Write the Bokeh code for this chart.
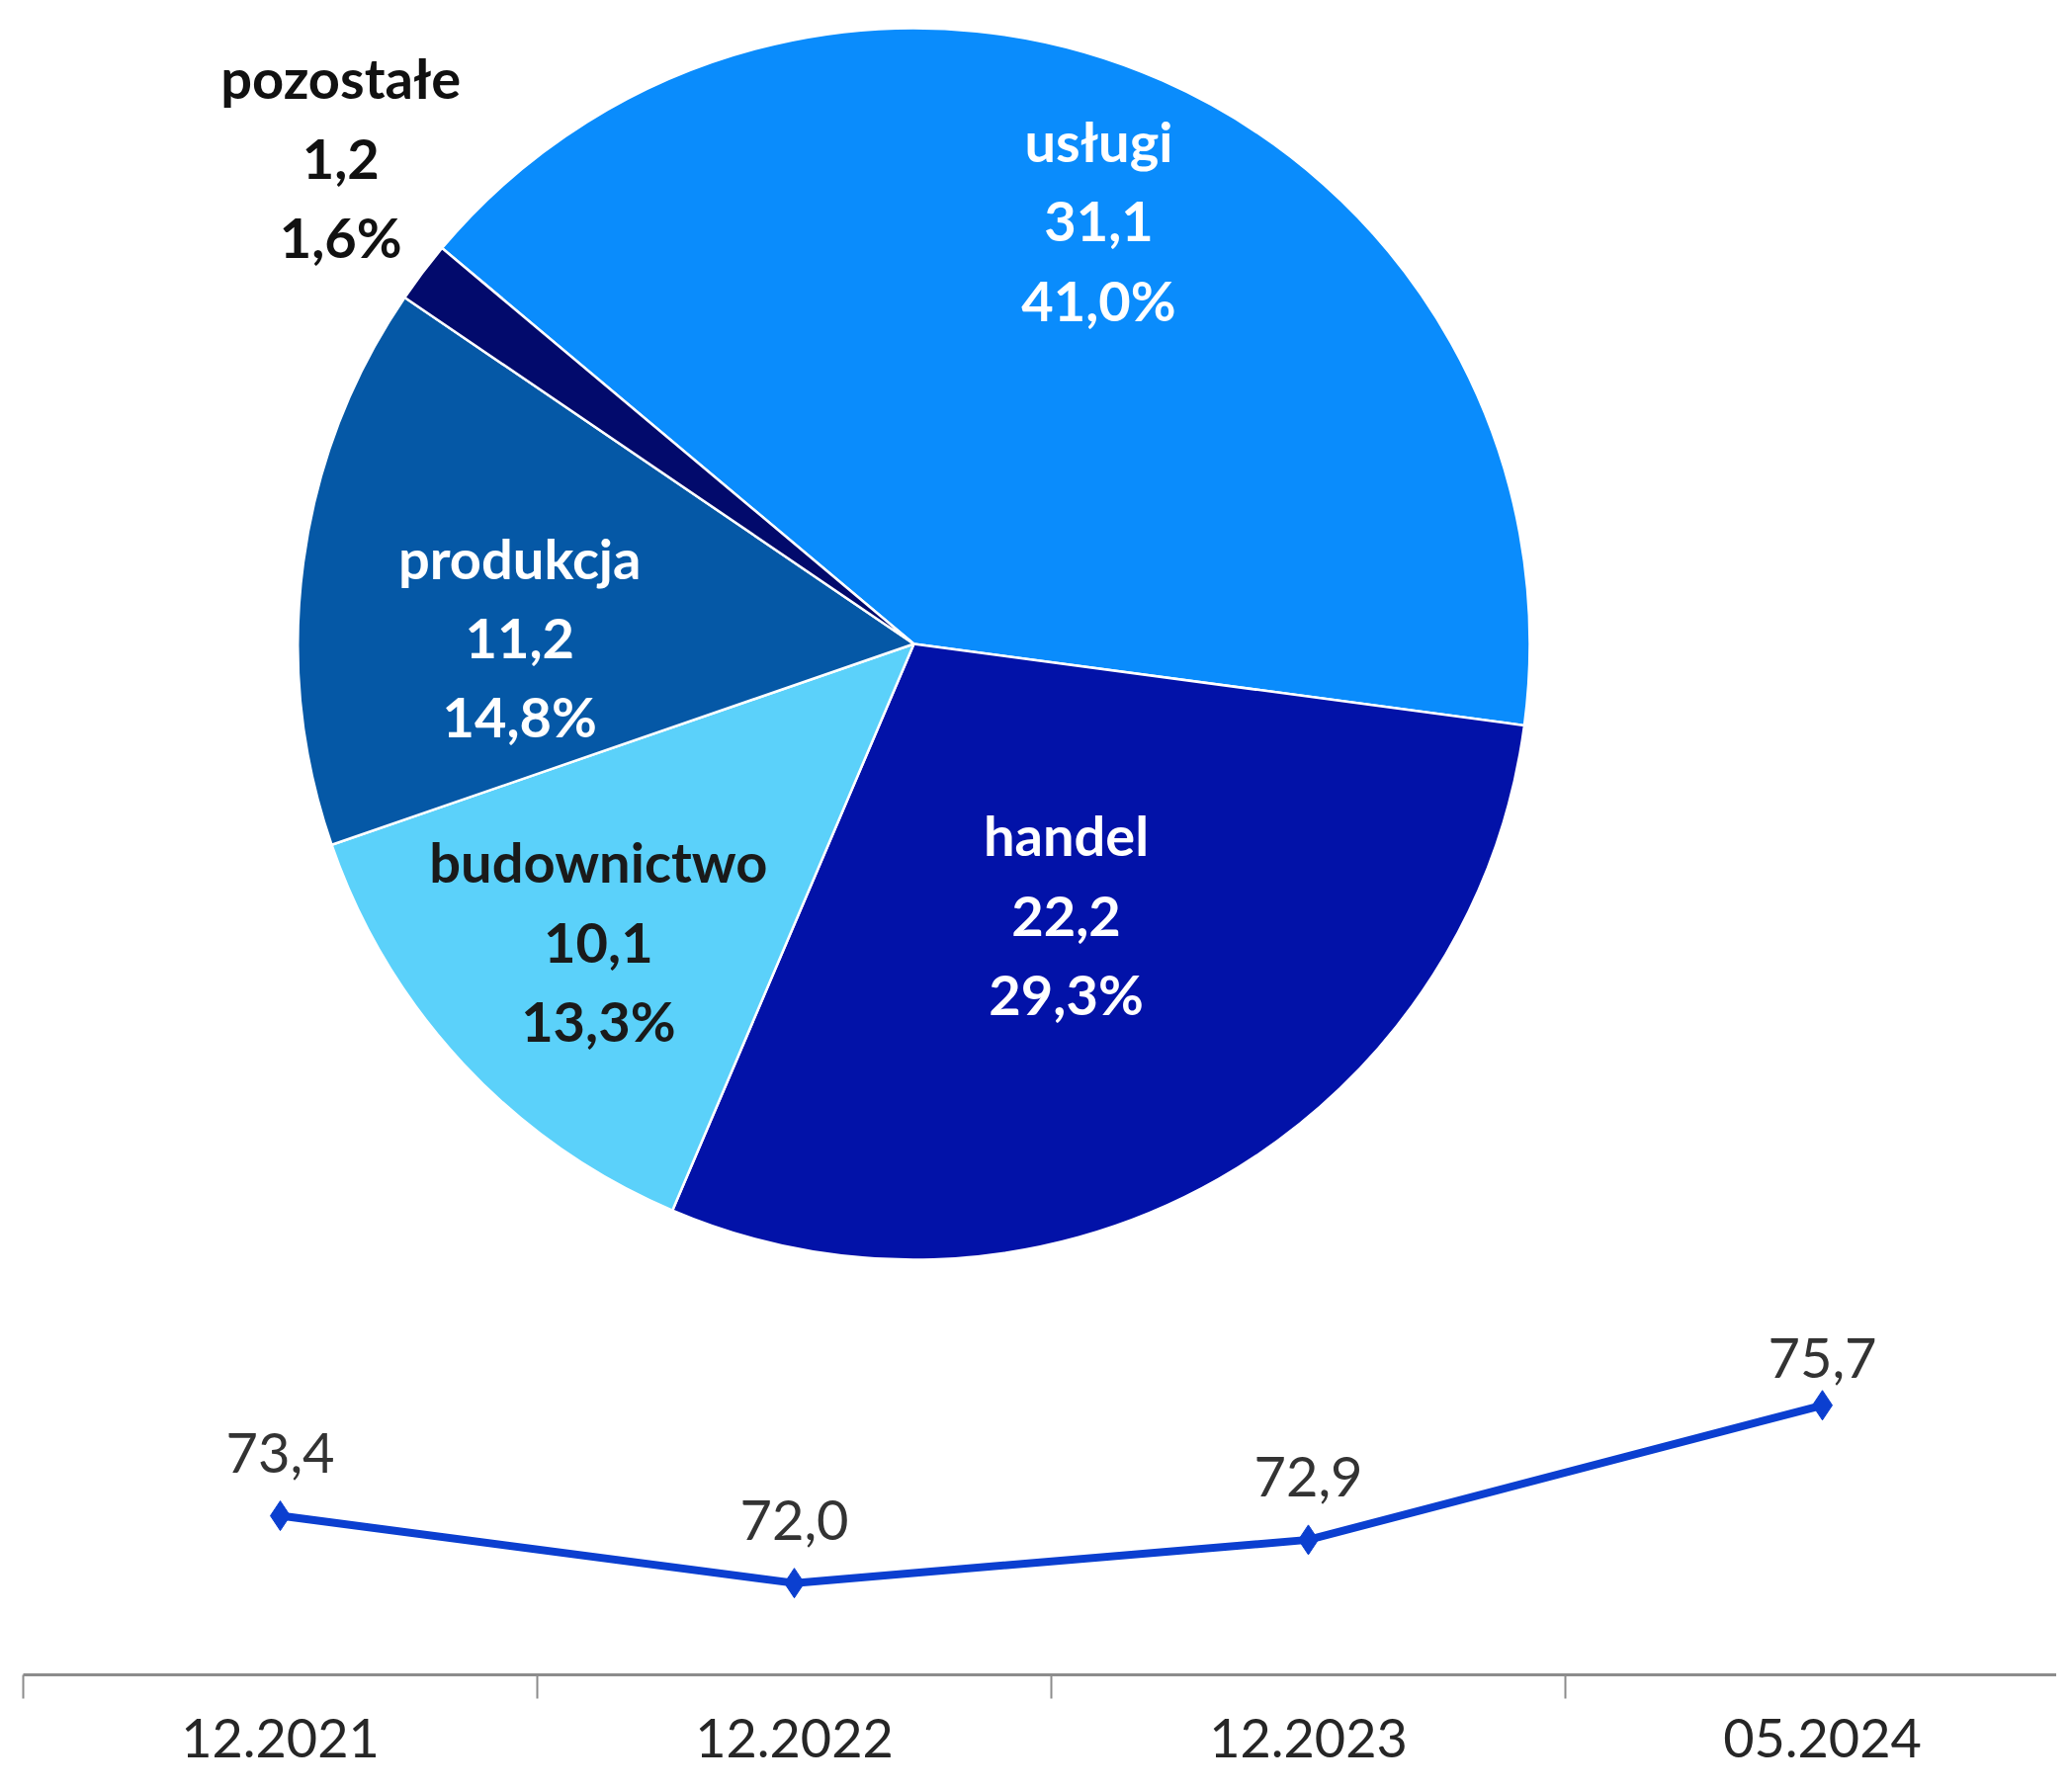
import math
from bokeh.plotting import figure
from bokeh.layouts import column
from bokeh.models import ColumnDataSource, Range1d, FixedTicker
from bokeh.core.properties import value
from bokeh.embed import file_html
from bokeh.resources import INLINE

# ---------------- data ----------------
sectors = ["usługi", "handel", "budownictwo", "produkcja", "pozostałe"]
sector_values = [31.1, 22.2, 10.1, 11.2, 1.2]
sector_shares = [41.0, 29.3, 13.3, 14.8, 1.6]

periods = ["12.2021", "12.2022", "12.2023", "05.2024"]
totals = [73.4, 72.0, 72.9, 75.7]

# ---------------- styles ----------------
sector_colors = ["#0A8CFC", "#0212A8", "#5BD1FA", "#0558A6", "#020A6C"]
label_colors = ["white", "white", "#1A1A1A", "white", "#111111"]
label_r = [0.744, 0.50, 0.70, 0.64, 1.215]
label_dang = [0.0, 0.0, 0.0, 6.6, -2.9]
value_label_offsets = [-64, -64, -64, -48]
first_slice_deg = 140.0
FONT = "Lato"

W = 2080
H1 = 1290
H2 = 504
R = 630.0
CX, CY = 911.0, H1 - 651.0
LEFT = 23


def fmt(v, d=1):
    return f"{v:.{d}f}".replace(".", ",")


# ---------------- pie ----------------
p1 = figure(width=W, height=H1, output_backend="svg", toolbar_location=None,
            x_range=Range1d(0, W), y_range=Range1d(0, H1),
            min_border=0, outline_line_color=None)
p1.axis.visible = False
p1.grid.visible = False

tot = sum(sector_shares)
starts, ends, mids = [], [], []
a = first_slice_deg
for s in sector_shares:
    span = s / tot * 360.0
    starts.append(math.radians(a - span))
    ends.append(math.radians(a))
    mids.append(a - span / 2)
    a -= span

src = ColumnDataSource(dict(start=starts, end=ends, color=sector_colors))
p1.wedge(x=CX, y=CY, radius=R, start_angle="start", end_angle="end",
         fill_color="color", line_color="white", line_width=2.5, source=src)

lx, ly, lt = [], [], []
for i, name in enumerate(sectors):
    ang = math.radians(mids[i] + label_dang[i])
    lx.append(CX + label_r[i] * R * math.cos(ang))
    ly.append(CY + label_r[i] * R * math.sin(ang))
    lt.append(f"{name}\n{fmt(sector_values[i])}\n{fmt(sector_shares[i])}%")
lsrc = ColumnDataSource(dict(x=lx, y=ly, t=lt, c=label_colors))
p1.text(x="x", y="y", text="t", text_color="c", source=lsrc,
        text_font=value(FONT), text_font_style="bold", text_font_size="56px",
        text_align="center", text_baseline="middle", text_line_height=1.2)

# ---------------- line ----------------
xs = [i + 0.5 for i in range(len(periods))]
p2 = figure(width=W, height=H2, output_backend="svg", toolbar_location=None,
            x_range=Range1d(0, (W - LEFT) / 520.0), y_range=Range1d(70.09, 78.40),
            min_border_left=LEFT, min_border_right=0, min_border_top=0,
            min_border_bottom=100, outline_line_color=None)
p2.grid.visible = False
p2.yaxis.visible = False
ax = p2.xaxis[0]
ax.ticker = FixedTicker(ticks=xs, minor_ticks=list(range(len(periods) + 1)))
ax.major_label_overrides = {x: lab for x, lab in zip(xs, periods)}
ax.major_tick_out = 0
ax.major_tick_in = 0
ax.minor_tick_out = 24
ax.minor_tick_in = 0
ax.minor_tick_line_color = "#8C8C8C"
ax.minor_tick_line_width = 2
ax.axis_line_color = "#8C8C8C"
ax.axis_line_width = 3
ax.major_label_text_font = FONT
ax.major_label_text_font_size = "54px"
ax.major_label_text_color = "#262626"
ax.major_label_standoff = 20

p2.line(xs, totals, line_color="#0B3FD0", line_width=8)
p2.scatter(xs, totals, marker="diamond", size=30, fill_color="#0B3FD0",
           line_color="#0B3FD0")
tsrc = ColumnDataSource(dict(x=xs, y=totals, t=[fmt(v) for v in totals],
                             off=value_label_offsets))
p2.text(x="x", y="y", text="t", source=tsrc, y_offset="off",
        text_font=value(FONT), text_font_size="56px", text_color="#333333",
        text_align="center", text_baseline="alphabetic")

layout = column(p1, p2, spacing=0)
open("out.html", "w").write(file_html(layout, INLINE))
